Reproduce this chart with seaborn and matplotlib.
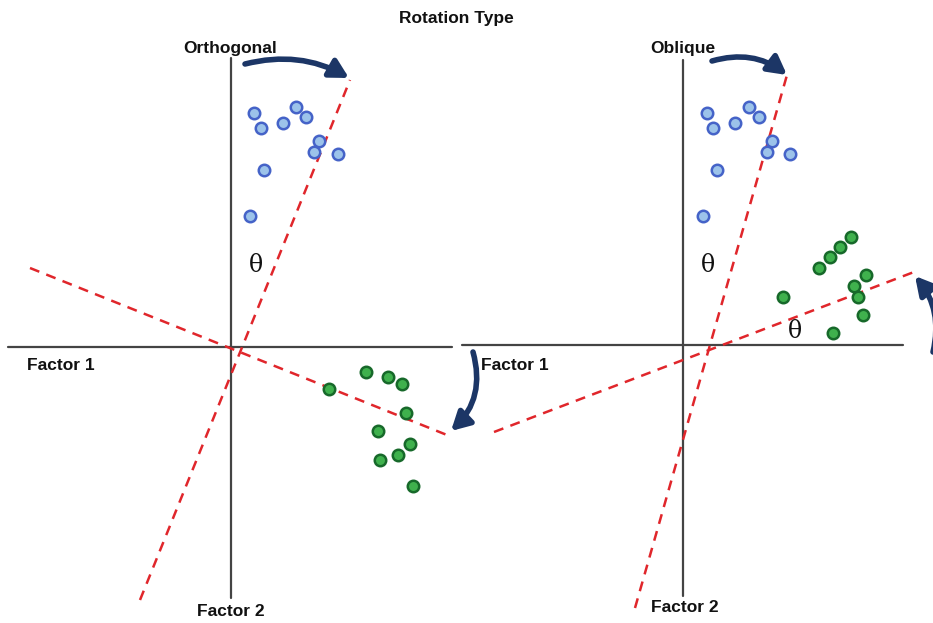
import matplotlib
matplotlib.use("Agg")
import matplotlib.pyplot as plt
import seaborn as sns
import pandas as pd
from matplotlib.patches import FancyArrowPatch

# point positions (pixel space, y down)
orth_blue_x = [254, 261, 283, 296, 306, 319, 314, 338, 264, 250]
orth_blue_y = [113, 128, 123, 107, 117, 141, 152, 154, 170, 216]
orth_green_x = [366, 388, 402, 329, 406, 378, 410, 398, 380, 413]
orth_green_y = [372, 377, 384, 389, 413, 431, 444, 455, 460, 486]
obl_blue_x = [707, 713, 735, 749, 759, 772, 767, 790, 717, 703]
obl_blue_y = [113, 128, 123, 107, 117, 141, 152, 154, 170, 216]
obl_green_x = [851, 840, 830, 819, 866, 854, 858, 783, 863, 833]
obl_green_y = [237, 247, 257, 268, 275, 286, 297, 297, 315, 333]

# rotated factor axes (end points)
orth_axis_a = [(140, 600), (350, 80)]
orth_axis_b = [(30, 268), (447, 435)]
obl_axis_a = [(635, 608), (787, 75)]
obl_axis_b = [(494, 432), (914, 272)]

sns.set_theme(style="white")
fig = plt.figure(figsize=(9.33, 6.23), dpi=100)
ax = fig.add_axes([0, 0, 1, 1])
ax.set_xlim(0, 933)
ax.set_ylim(623, 0)

# original axes
ax.plot([8, 452], [347, 347], color="#444444", lw=1.6)
ax.plot([231, 231], [58, 598], color="#444444", lw=1.6)
ax.plot([462, 903], [345, 345], color="#444444", lw=1.6)
ax.plot([683, 683], [60, 596], color="#444444", lw=1.6)

# rotated axes
for seg in [orth_axis_a, orth_axis_b, obl_axis_a, obl_axis_b]:
    ax.plot([seg[0][0], seg[1][0]], [seg[0][1], seg[1][1]],
            color="#e0262b", lw=1.8, ls=(0, (4, 3)))

blue = pd.DataFrame({"x": orth_blue_x + obl_blue_x, "y": orth_blue_y + obl_blue_y})
green = pd.DataFrame({"x": orth_green_x + obl_green_x, "y": orth_green_y + obl_green_y})
sns.scatterplot(data=blue, x="x", y="y", ax=ax, s=68, color="#9cc3ea",
                edgecolor="#4563c8", linewidth=1.8, zorder=5)
sns.scatterplot(data=green, x="x", y="y", ax=ax, s=68, color="#3fb14d",
                edgecolor="#17692a", linewidth=1.8, zorder=5)
ax.axis("off")

# curved rotation arrows
arrows = [((245, 64), (349, 78), "arc3,rad=-0.2"),
          ((712, 61), (787, 75), "arc3,rad=-0.25"),
          ((473, 352), (451, 431), "arc3,rad=-0.3"),
          ((933, 352), (915, 276), "arc3,rad=0.25")]
for start, end, cs in arrows:
    ax.add_patch(FancyArrowPatch(start, end, connectionstyle=cs,
                                 arrowstyle="-|>,head_length=5.5,head_width=3",
                                 color="#1c3666", lw=4, mutation_scale=2,
                                 shrinkA=0, shrinkB=0, zorder=6))

bold = dict(fontsize=12.5, fontweight="bold", family="Liberation Sans", color="#111111")
ax.text(456, 19, "Rotation Type", ha="center", va="center", **bold)
ax.text(230, 48, "Orthogonal", ha="center", va="center", **bold)
ax.text(683, 49, "Oblique", ha="center", va="center", **bold)
ax.text(61, 365, "Factor 1", ha="center", va="center", **bold)
ax.text(515, 366, "Factor 1", ha="center", va="center", **bold)
ax.text(231, 611, "Factor 2", ha="center", va="center", **bold)
ax.text(685, 607, "Factor 2", ha="center", va="center", **bold)

theta = dict(fontsize=17, family="DejaVu Serif", color="#111111", ha="center", va="center")
ax.text(256, 266, "θ", **theta)
ax.text(708, 266, "θ", **theta)
ax.text(795, 331, "θ", **theta)

fig.savefig("out.png", dpi=100)
